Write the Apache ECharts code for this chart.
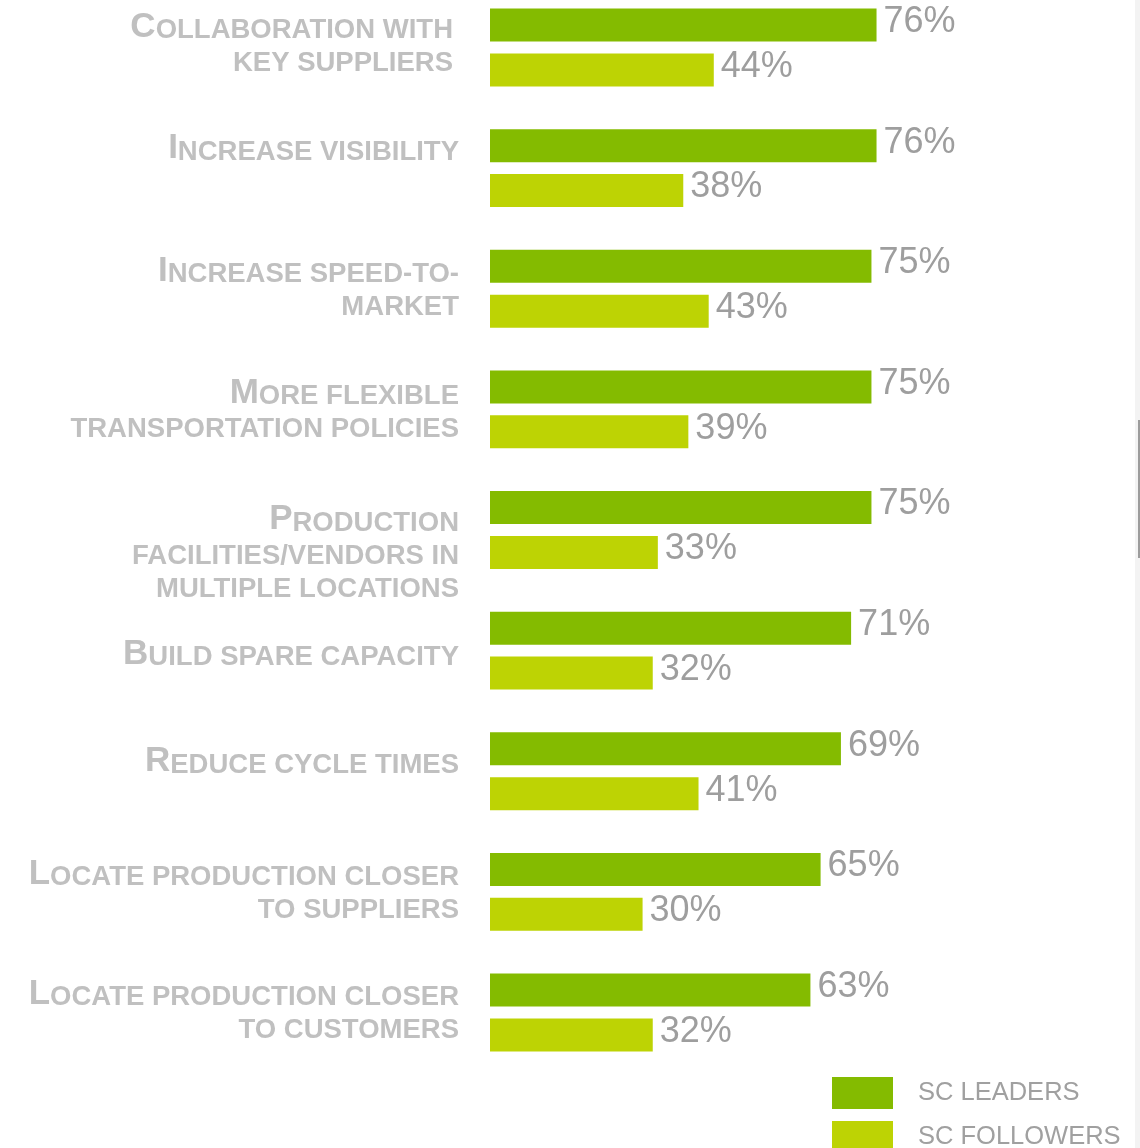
<!DOCTYPE html>
<html>
<head>
<meta charset="utf-8">
<script src="https://cdn.jsdelivr.net/npm/echarts@6/dist/echarts.min.js"></script>
<style>
  html, body { margin: 0; padding: 0; background: #ffffff; }
  #chart { width: 1140px; height: 1148px; }
</style>
</head>
<body>
<div id="chart"></div>
<script>
// ---- data ----
const categories = [
  "Collaboration with\nkey suppliers",
  "Increase visibility",
  "Increase speed-to-\nmarket",
  "More flexible\ntransportation policies",
  "Production\nfacilities/vendors in\nmultiple locations",
  "Build spare capacity",
  "Reduce cycle times",
  "Locate production closer\nto suppliers",
  "Locate production closer\nto customers"
];
const leaders = [76, 76, 75, 75, 75, 71, 69, 65, 63];
const followers = [44, 38, 43, 39, 33, 32, 41, 30, 32];
const seriesNames = ["SC LEADERS", "SC FOLLOWERS"];

// ---- layout tweaks for the category labels (px) ----
const labelNudgeY = [0, 1, 3, 4, 10, 24, 11, 3, 2];
const labelPadRight = [6, 0, 0, 0, 0, 0, 0, 0, 0];

const FONT = "'Liberation Sans', Arial, Helvetica, sans-serif";
const C_LEAD = '#84bb00';
const C_FOLL = '#bdd304';
const C_LABEL = '#c0c0c0';
const C_VALUE = '#9e9e9e';
const LINE_H = 33;

function smallCaps(text) {
  const lines = text.split('\n');
  return lines.map(function (l, i) {
    if (i === 0) {
      return '{big|' + l.charAt(0).toUpperCase() + '}{sm|' + l.slice(1).toUpperCase() + '}';
    }
    return '{sm|' + l.toUpperCase() + '}';
  }).join('\n');
}

// padding that puts the label's top 36px above the group centre (+ nudge)
function labelPadding(text, i) {
  const h = text.split('\n').length * LINE_H;
  const d = 72 - 2 * labelNudgeY[i] - h;
  const pt = d < 0 ? -d : 0;
  const pb = d > 0 ? d : 0;
  return [pt, labelPadRight[i], pb, 0];
}

const chart = echarts.init(document.getElementById('chart'), null, { renderer: 'canvas' });

const valueLabel = {
  show: true,
  position: 'right',
  distance: 7,
  offset: [0, -3],
  formatter: '{c}%',
  color: C_VALUE,
  fontFamily: FONT,
  fontSize: 36
};

const option = {
  animation: false,
  backgroundColor: '#ffffff',
  grid: { left: 490, top: 47.5, width: 508.6, height: 965, containLabel: false },
  xAxis: { type: 'value', min: 0, max: 100, show: false },
  yAxis: {
    type: 'category',
    inverse: true,
    boundaryGap: false,
    data: categories.map(function (c, i) {
      return { value: c, textStyle: { padding: labelPadding(c, i) } };
    }),
    axisLine: { show: false },
    axisTick: { show: false },
    splitLine: { show: false },
    axisLabel: {
      show: true,
      margin: 31,
      align: 'right',
      formatter: smallCaps,
      rich: {
        big: { fontFamily: FONT, fontWeight: 'bold', fontSize: 35, color: C_LABEL, lineHeight: LINE_H, verticalAlign: 'bottom' },
        sm: { fontFamily: FONT, fontWeight: 'bold', fontSize: 27.5, color: C_LABEL, lineHeight: LINE_H, verticalAlign: 'bottom' }
      }
    }
  },
  legend: [
    {
      orient: 'vertical', left: 832, top: 1077, padding: 0,
      itemWidth: 61, itemHeight: 32, icon: 'rect', selectedMode: false,
      data: [seriesNames[0]],
      textStyle: { fontFamily: FONT, fontSize: 25.5, color: '#a0a0a0', padding: [0, 0, 0, 20] }
    },
    {
      orient: 'vertical', left: 832, top: 1121, padding: 0,
      itemWidth: 61, itemHeight: 32, icon: 'rect', selectedMode: false,
      data: [seriesNames[1]],
      textStyle: { fontFamily: FONT, fontSize: 25.5, color: '#a0a0a0', padding: [0, 0, 0, 20] }
    }
  ],
  series: [
    {
      name: seriesNames[0], type: 'bar', clip: false,
      data: leaders, barWidth: 33, barGap: '36%',
      itemStyle: { color: C_LEAD }, label: valueLabel
    },
    {
      name: seriesNames[1], type: 'bar', clip: false,
      data: followers, barWidth: 33, barGap: '36%',
      itemStyle: { color: C_FOLL }, label: valueLabel
    }
  ],
  graphic: [
    { type: 'rect', left: 1135, top: 0, shape: { width: 5, height: 1148 }, style: { fill: '#f3f3f3' }, silent: true },
    { type: 'rect', left: 1138, top: 420, shape: { width: 2, height: 138 }, style: { fill: '#9c9c9c' }, silent: true }
  ]
};

chart.setOption(option);
</script>
</body>
</html>
